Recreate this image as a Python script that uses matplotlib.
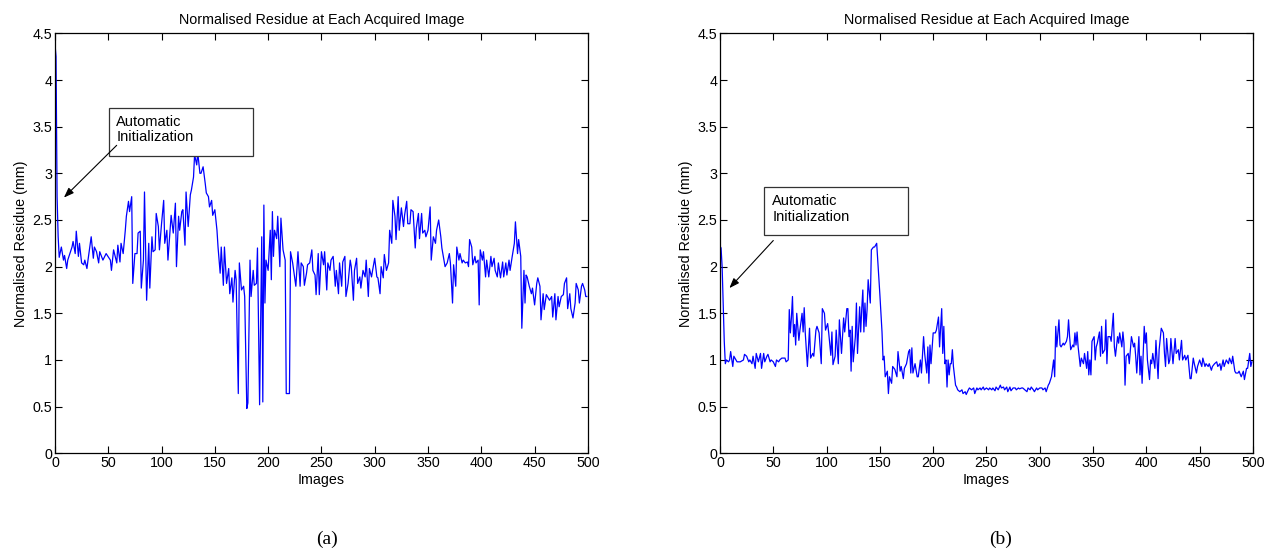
import numpy as np
import matplotlib
matplotlib.use("Agg")
import matplotlib.pyplot as plt
from matplotlib.patches import Rectangle

# values (image number, normalised residue in mm)
img_a = [0, 1, 2, 3, 4, 6, 8, 9, 11, 12, 14, 16, 17, 19, 20, 22, 23, 25, 27, 28,
         30, 31, 34, 36, 37, 39, 41, 42, 45, 48, 52, 53, 55, 58, 59, 61, 62, 64, 66, 67,
         69, 70, 72, 73, 75, 77, 78, 80, 81, 83, 84, 86, 88, 89, 91, 92, 94, 95, 97, 98,
         100, 102, 103, 105, 106, 108, 109, 111, 113, 114, 116, 117, 119, 120, 122, 123, 125, 127, 128, 130,
         131, 133, 134, 136, 137, 139, 141, 142, 144, 145, 147, 148, 150, 152, 153, 155, 156, 158, 159, 161,
         163, 164, 166, 167, 169, 170, 172, 173, 175, 177, 178, 180, 181, 183, 184, 186, 187, 189, 190, 192,
         194, 195, 196, 197, 198, 200, 202, 203, 204, 205, 206, 208, 209, 211, 212, 214, 216, 217, 220, 221,
         223, 226, 228, 230, 231, 233, 234, 236, 237, 239, 241, 242, 244, 245, 247, 248, 250, 252, 253, 255,
         256, 258, 259, 261, 263, 264, 266, 267, 269, 270, 272, 273, 275, 277, 278, 280, 281, 283, 284, 286,
         287, 289, 291, 292, 294, 295, 297, 298, 300, 302, 303, 305, 306, 308, 309, 311, 313, 314, 316, 317,
         319, 320, 322, 323, 325, 327, 328, 330, 331, 333, 334, 336, 338, 339, 341, 342, 344, 345, 347, 348,
         350, 352, 353, 355, 357, 358, 360, 362, 363, 365, 366, 368, 370, 371, 373, 374, 376, 377, 379, 380,
         382, 383, 385, 387, 388, 389, 391, 392, 394, 395, 397, 398, 399, 401, 402, 404, 405, 407, 409, 410,
         412, 413, 415, 416, 418, 420, 421, 423, 424, 426, 427, 429, 431, 432, 434, 435, 437, 438, 440, 441,
         442, 443, 445, 447, 448, 450, 452, 453, 455, 456, 458, 459, 461, 462, 464, 466, 467, 469, 470, 472,
         473, 475, 477, 478, 480, 481, 483, 484, 486, 488, 489, 491, 492, 494, 495, 497, 498, 499]
res_a = [4.39, 4.25, 2.75, 2.32, 2.10, 2.21, 2.07, 2.12, 1.98, 2.07, 2.14, 2.21, 2.27, 2.14, 2.38, 2.11, 2.25, 2.04, 2.02, 2.07,
         1.98, 2.07, 2.32, 2.09, 2.21, 2.16, 2.04, 2.16, 2.07, 2.14, 2.07, 1.96, 2.18, 2.04, 2.23, 2.05, 2.25, 2.14, 2.39, 2.54,
         2.70, 2.59, 2.75, 1.82, 2.14, 2.14, 2.36, 2.38, 1.77, 2.07, 2.80, 1.64, 2.25, 1.77, 2.32, 2.16, 2.18, 2.57, 2.43, 2.18,
         2.46, 2.71, 2.25, 2.39, 2.07, 2.39, 2.55, 2.36, 2.68, 2.00, 2.54, 2.39, 2.59, 2.61, 2.23, 2.80, 2.43, 2.77, 2.82, 2.96,
         3.20, 3.09, 3.22, 3.00, 3.00, 3.07, 2.89, 2.79, 2.75, 2.64, 2.71, 2.55, 2.61, 2.39, 2.21, 1.93, 2.21, 1.80, 2.21, 1.82,
         1.98, 1.71, 1.88, 1.62, 1.96, 1.86, 0.64, 2.04, 1.75, 1.79, 1.68, 0.48, 0.54, 2.07, 1.68, 1.96, 1.80, 1.82, 2.20, 0.52,
         2.32, 0.55, 2.66, 1.61, 2.07, 1.96, 2.39, 1.86, 2.59, 2.11, 2.39, 2.30, 2.54, 2.00, 2.52, 2.18, 2.07, 0.64, 0.64, 2.16,
         2.04, 1.79, 2.16, 1.79, 2.04, 2.00, 1.80, 1.93, 2.02, 2.04, 2.18, 1.96, 1.91, 1.70, 2.14, 1.70, 2.16, 2.02, 2.16, 1.75,
         2.04, 1.96, 2.07, 2.11, 1.79, 1.96, 1.71, 2.04, 1.79, 2.05, 2.11, 1.68, 1.82, 2.07, 2.00, 1.64, 1.96, 2.09, 1.82, 1.89,
         1.77, 1.96, 1.89, 2.07, 1.68, 1.98, 1.89, 1.96, 2.09, 1.89, 1.88, 1.71, 2.00, 1.88, 2.13, 1.96, 2.04, 2.39, 2.25, 2.71,
         2.54, 2.29, 2.75, 2.39, 2.63, 2.43, 2.55, 2.70, 2.46, 2.46, 2.61, 2.59, 2.20, 2.41, 2.57, 2.30, 2.57, 2.36, 2.39, 2.32,
         2.39, 2.64, 2.07, 2.32, 2.25, 2.39, 2.50, 2.32, 2.20, 2.07, 2.00, 2.04, 2.14, 2.04, 1.61, 2.02, 1.79, 2.21, 2.07, 2.14,
         2.04, 2.07, 2.04, 2.05, 2.00, 2.29, 2.21, 2.02, 2.11, 2.04, 2.07, 1.59, 2.18, 2.07, 2.16, 1.89, 2.07, 1.89, 2.11, 2.00,
         2.09, 1.96, 1.89, 2.04, 1.88, 2.05, 1.89, 2.04, 1.91, 2.07, 1.96, 2.11, 2.25, 2.48, 2.14, 2.29, 2.11, 1.34, 1.96, 1.61,
         1.91, 1.89, 1.79, 1.71, 1.77, 1.59, 1.82, 1.88, 1.79, 1.43, 1.71, 1.54, 1.70, 1.68, 1.64, 1.68, 1.46, 1.71, 1.43, 1.68,
         1.57, 1.68, 1.70, 1.82, 1.88, 1.55, 1.71, 1.55, 1.45, 1.61, 1.82, 1.75, 1.61, 1.79, 1.82, 1.75, 1.68, 1.68]

img_b = [0, 1, 2, 3, 4, 5, 6, 8, 9, 10, 12, 13, 16, 19, 22, 23, 25, 27, 28, 30,
         31, 33, 34, 36, 38, 39, 41, 42, 44, 45, 47, 48, 50, 52, 53, 55, 56, 58, 59, 61,
         62, 64, 65, 66, 67, 68, 69, 70, 71, 72, 74, 75, 77, 78, 79, 80, 82, 84, 85, 87,
         88, 90, 91, 93, 95, 96, 98, 99, 101, 102, 104, 105, 106, 108, 109, 111, 112, 114, 116, 117,
         119, 120, 121, 122, 123, 124, 125, 127, 128, 129, 131, 132, 133, 134, 135, 136, 137, 138, 139, 141,
         142, 144, 145, 147, 148, 150, 152, 153, 154, 155, 157, 158, 159, 161, 162, 164, 166, 167, 169, 170,
         172, 173, 175, 177, 178, 179, 180, 181, 183, 185, 186, 188, 189, 191, 192, 194, 195, 196, 197, 198,
         200, 202, 203, 205, 206, 208, 209, 210, 211, 212, 213, 214, 215, 216, 217, 218, 219, 221, 222, 223,
         225, 227, 228, 230, 231, 233, 234, 236, 238, 239, 241, 242, 244, 245, 247, 248, 250, 252, 253, 255,
         256, 258, 259, 261, 263, 264, 266, 267, 269, 270, 272, 273, 275, 277, 278, 280, 281, 283, 284, 286,
         288, 289, 291, 292, 294, 295, 297, 298, 300, 302, 303, 305, 306, 308, 309, 311, 313, 314, 315, 316,
         318, 319, 320, 322, 323, 325, 326, 327, 328, 329, 331, 332, 333, 334, 335, 336, 338, 339, 341, 342,
         344, 345, 346, 347, 348, 349, 351, 352, 353, 354, 356, 357, 358, 359, 361, 362, 363, 364, 366, 367,
         369, 370, 371, 373, 374, 375, 377, 378, 379, 380, 381, 383, 384, 386, 388, 389, 390, 391, 393, 394,
         395, 396, 398, 399, 400, 401, 403, 404, 405, 406, 408, 409, 411, 412, 414, 416, 417, 418, 419, 421,
         422, 423, 425, 427, 428, 430, 431, 433, 434, 436, 437, 439, 441, 442, 444, 445, 447, 448, 450, 452,
         453, 455, 456, 458, 459, 461, 462, 464, 466, 467, 469, 470, 472, 473, 475, 477, 478, 480, 481, 483,
         484, 486, 487, 489, 491, 492, 494, 495, 497, 498, 499]
res_b = [2.22, 2.20, 2.00, 1.60, 1.20, 0.96, 1.00, 0.98, 1.00, 1.09, 0.93, 1.04, 0.98, 0.98, 1.00, 1.06, 1.04, 0.98, 1.00, 0.96,
         1.04, 0.91, 1.07, 0.98, 1.07, 0.91, 1.07, 0.98, 1.04, 1.06, 0.98, 1.00, 0.98, 0.93, 1.00, 0.98, 1.00, 1.02, 1.02, 1.02,
         0.98, 1.00, 1.54, 1.29, 1.45, 1.68, 1.25, 1.38, 1.16, 1.50, 1.21, 1.32, 1.50, 1.30, 1.56, 1.29, 0.93, 1.34, 1.02, 1.07,
         1.04, 1.32, 1.36, 1.29, 0.96, 1.55, 1.50, 1.32, 1.39, 1.29, 1.05, 1.30, 0.95, 1.04, 1.32, 0.96, 1.43, 1.07, 1.45, 1.30,
         1.55, 1.55, 1.25, 1.32, 0.88, 1.36, 0.98, 1.25, 1.61, 1.07, 1.57, 1.30, 1.55, 1.75, 1.30, 1.61, 1.36, 1.54, 1.86, 1.61,
         2.18, 2.21, 2.21, 2.25, 2.07, 1.70, 1.30, 1.00, 1.04, 0.82, 0.88, 0.64, 0.82, 0.75, 0.93, 0.90, 0.82, 1.09, 0.88, 0.93,
         0.80, 0.91, 0.96, 1.09, 1.11, 0.86, 1.13, 0.86, 0.96, 0.82, 0.82, 1.00, 0.86, 1.25, 1.07, 0.86, 1.14, 0.75, 1.16, 0.96,
         1.29, 1.29, 1.32, 1.46, 1.14, 1.55, 1.07, 1.36, 0.96, 1.00, 0.71, 1.00, 0.84, 0.96, 0.96, 1.11, 0.93, 0.73, 0.71, 0.68,
         0.66, 0.68, 0.64, 0.66, 0.63, 0.68, 0.70, 0.68, 0.70, 0.64, 0.70, 0.68, 0.70, 0.68, 0.71, 0.68, 0.70, 0.68, 0.70, 0.68,
         0.70, 0.67, 0.71, 0.68, 0.73, 0.70, 0.71, 0.68, 0.71, 0.66, 0.71, 0.67, 0.70, 0.70, 0.68, 0.70, 0.69, 0.70, 0.70, 0.68,
         0.66, 0.70, 0.68, 0.71, 0.68, 0.66, 0.70, 0.68, 0.70, 0.70, 0.68, 0.70, 0.66, 0.73, 0.75, 0.82, 1.00, 0.82, 1.36, 1.14,
         1.43, 1.16, 1.14, 1.18, 1.16, 1.20, 1.25, 1.43, 1.25, 1.11, 1.16, 1.14, 1.29, 1.16, 1.30, 1.14, 0.93, 1.02, 0.96, 1.07,
         0.91, 1.09, 0.84, 1.00, 0.84, 1.20, 1.25, 1.00, 1.14, 1.18, 1.30, 1.04, 1.36, 1.07, 1.11, 1.43, 0.96, 1.25, 1.25, 1.20,
         1.50, 1.14, 1.04, 1.25, 1.18, 1.29, 1.14, 1.30, 1.18, 0.73, 1.04, 1.07, 0.96, 1.25, 1.14, 1.18, 1.04, 0.86, 1.25, 0.84,
         1.04, 0.75, 1.36, 1.18, 1.29, 1.00, 0.79, 1.00, 0.96, 1.07, 0.91, 1.21, 0.80, 1.11, 1.34, 1.29, 1.07, 0.93, 1.23, 0.96,
         1.00, 1.23, 0.96, 1.23, 1.07, 1.11, 1.00, 1.21, 1.00, 1.05, 1.00, 1.05, 0.80, 0.80, 1.02, 0.96, 0.86, 0.93, 1.00, 0.93,
         1.02, 0.93, 0.96, 0.93, 0.96, 0.89, 0.93, 0.96, 0.98, 0.93, 0.96, 0.89, 1.00, 0.93, 1.00, 0.96, 1.02, 0.96, 1.04, 0.88,
         0.86, 0.86, 0.88, 0.82, 0.88, 0.79, 0.91, 0.91, 1.07, 0.93, 0.98]

title = "Normalised Residue at Each Acquired Image"
xticks = [0, 50, 100, 150, 200, 250, 300, 350, 400, 450, 500]
yticks = [0, 0.5, 1, 1.5, 2, 2.5, 3, 3.5, 4, 4.5]
ytick_labels = ["0", "0.5", "1", "1.5", "2", "2.5", "3", "3.5", "4", "4.5"]
captions = ["(a)", "(b)"]

plt.rcParams['font.family'] = ['Liberation Sans', 'DejaVu Sans']
fig = plt.figure(figsize=(12.75, 5.54), dpi=100)

fs = 10.3
panels = [
    (0.0431, img_a, res_a, (50.7, 3.19, 135.0, 0.51), (57.5, 3.47), (57.9, 3.30), (8.4, 2.74), 0.2565),
    (0.5647, img_b, res_b, (41.6, 2.34, 135.1, 0.51), (49.0, 2.62), (50.0, 2.28), (8.8, 1.77), 0.785),
]

for k, (left, xs, ys, box, txt, tail, tip, capx) in enumerate(panels):
    ax = fig.add_axes([left, 0.1818, 0.418, 0.758])
    ax.plot(xs, ys, color='#0000ff', lw=0.9)
    ax.set_xlim(0, 500)
    ax.set_ylim(0, 4.5)
    ax.set_xticks(xticks)
    ax.set_yticks(yticks)
    ax.set_yticklabels(ytick_labels)
    ax.tick_params(direction='in', top=True, right=True, length=5, width=0.8,
                   labelsize=fs, pad=2)
    for s in ax.spines.values():
        s.set_linewidth(0.9)
    ax.set_title(title, fontsize=fs, pad=7)
    ax.set_xlabel("Images", fontsize=fs, labelpad=2)
    ax.set_ylabel("Normalised Residue (mm)", fontsize=fs, labelpad=3)

    # annotation box and arrow
    ax.add_patch(Rectangle((box[0], box[1]), box[2], box[3], facecolor='white',
                           edgecolor='#333333', lw=0.9, zorder=5))
    ax.text(txt[0], txt[1], "Automatic\nInitialization", fontsize=10.5,
            ha='left', va='center', linespacing=1.15, zorder=6)
    ax.annotate("", xy=tip, xytext=tail,
                arrowprops=dict(arrowstyle='-|>,head_length=0.6,head_width=0.22',
                                color='black', lw=0.8, shrinkA=0, shrinkB=0),
                zorder=6)

    fig.text(capx, 0.011, captions[k], fontsize=14,
             family='Liberation Serif', ha='center', va='bottom')

fig.savefig("out.png", dpi=100)
